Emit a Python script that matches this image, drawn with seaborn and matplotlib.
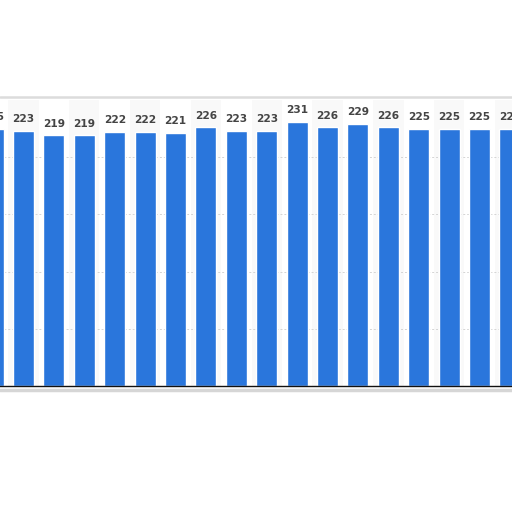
import matplotlib
matplotlib.use("Agg")
import matplotlib.pyplot as plt
import seaborn as sns
import pandas as pd
from matplotlib.lines import Line2D

categories = [f"c{i}" for i in range(18)]
values = [225, 223, 219, 219, 222, 222, 221, 226, 223, 223, 231, 226, 229, 226, 225, 225, 225, 225]

sns.set_theme(style="white")
plt.rcParams['font.family'] = ['DejaVu Sans']

df = pd.DataFrame({"cat": categories, "val": values})

fig = plt.figure(figsize=(5.12, 5.12), dpi=100)
fig.patch.set_facecolor("white")
ax = fig.add_axes([0.0, 0.2461, 1.0, 0.5586])
ax.set_facecolor("white")

# alternating faint bands
for i in range(len(categories)):
    if i % 2 == 1:
        ax.axvspan(i - 0.5, i + 0.5, color="#f9f9f9", zorder=0, lw=0)

sns.barplot(data=df, x="cat", y="val", color="#2a76dc", width=0.69,
            saturation=1, ax=ax, zorder=3)

ax.set_ylim(0, 250)
ax.set_xlim(0.227, 17.069)
ax.set_yticks([50, 100, 150, 200])
ax.yaxis.grid(True, linestyle=(0, (2, 2)), color="#d4d4d4", linewidth=0.7, zorder=1)
ax.set_axisbelow(True)
ax.set_xticks([])
ax.set_yticklabels([])
ax.tick_params(left=False, bottom=False)
ax.set_xlabel("")
ax.set_ylabel("")
for s in ["top", "left", "right"]:
    ax.spines[s].set_visible(False)
ax.spines["bottom"].set_color("#111111")
ax.spines["bottom"].set_linewidth(1.0)
ax.spines["bottom"].set_zorder(5)

for i, v in enumerate(values):
    ax.annotate(str(v), (i, v), xytext=(0, 5), textcoords="offset points",
                ha="center", va="bottom", fontsize=7.6, fontweight="bold",
                color="#444444", clip_on=False, annotation_clip=False)

# frame shadow lines
fig.add_artist(Line2D([0, 1], [1 - 97/512, 1 - 97/512], transform=fig.transFigure,
                      color="#dcdcdc", linewidth=1.8))
fig.add_artist(Line2D([0, 1], [1 - 390/512, 1 - 390/512], transform=fig.transFigure,
                      color="#d6d6d6", linewidth=2.5))

fig.savefig("out.png", dpi=100)
